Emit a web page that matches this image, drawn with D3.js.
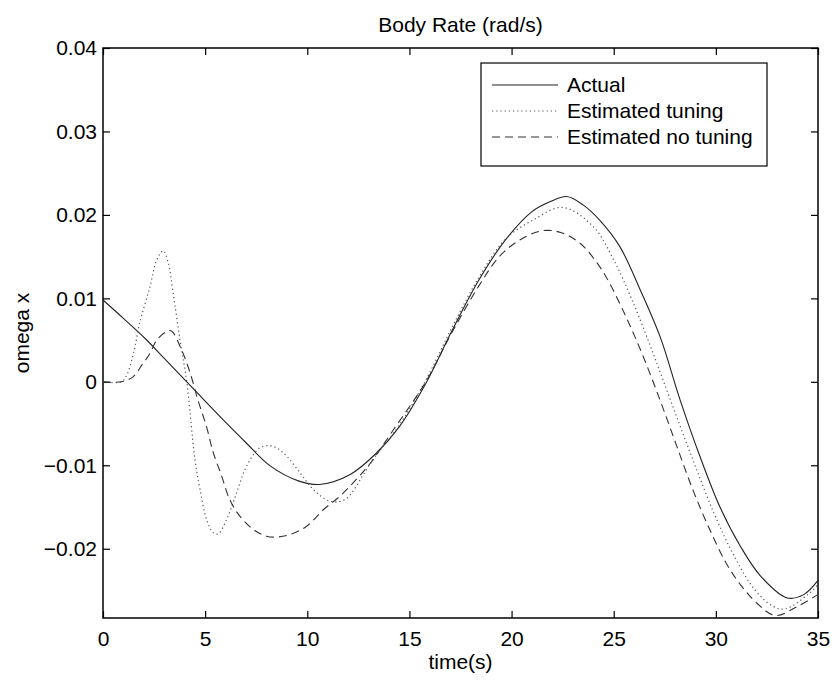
<!DOCTYPE html>
<html>
<head>
<meta charset="utf-8">
<script src="https://cdn.jsdelivr.net/npm/d3@7"></script>
<style>
  body { margin: 0; background: #fff; }
  text { font-family: "Liberation Sans", Arial, sans-serif; fill: #000; }
</style>
</head>
<body>
<script>
// values
const actualT = [0, 1, 2.1, 3, 4.1, 5, 5.9, 7, 8.2, 9.6, 10.6, 12.1, 13.4, 14.5, 15.8, 17.1, 18.4, 19.7, 21, 21.9, 22.7, 23.5, 24.3, 25.3, 26.3, 27.3, 28.2, 29.2, 30.2, 31.2, 32.2, 33.5, 34.3, 35]
const actualV = [0.0098, 0.0076, 0.0051, 0.0028, 0.0000, -0.0023, -0.0046, -0.0073, -0.0101, -0.0119, -0.0123, -0.0111, -0.0085, -0.0054, -0.0002, 0.0062, 0.0122, 0.0170, 0.0204, 0.0216, 0.0222, 0.0212, 0.0194, 0.0162, 0.0110, 0.0052, -0.0018, -0.0088, -0.0150, -0.0197, -0.0233, -0.0259, -0.0255, -0.0238]

const tunedT = [0, 0.9, 1.16, 1.5, 1.81, 2.3, 2.63, 2.95, 3.2, 3.43, 3.77, 4.1, 4.5, 4.75, 5.07, 5.4, 5.65, 6.05, 6.54, 7.03, 7.68, 8.26, 8.83, 9.64, 10.3, 11.1, 11.85, 12.9, 13.4, 14.5, 15.8, 17.1, 18.4, 19.7, 21.06, 22.5, 24.0, 25.0, 25.9, 26.9, 27.9, 28.9, 29.9, 30.9, 31.9, 32.8, 33.4, 34.5, 35]
const tunedV = [0, 0, 0.0008, 0.0035, 0.0072, 0.0114, 0.0146, 0.0157, 0.0142, 0.0107, 0.0050, 0.0000, -0.0093, -0.0129, -0.0165, -0.0181, -0.0182, -0.0165, -0.0133, -0.0101, -0.0079, -0.0077, -0.0085, -0.0109, -0.0129, -0.0143, -0.0141, -0.0105, -0.0087, -0.0052, 0.0002, 0.0066, 0.0125, 0.0171, 0.0194, 0.0209, 0.0186, 0.0146, 0.0098, 0.0036, -0.0030, -0.0095, -0.0157, -0.0209, -0.0249, -0.0269, -0.0272, -0.0255, -0.0243]

const noTuneT = [0, 0.9, 1.47, 1.9, 2.3, 2.63, 3.1, 3.35, 3.85, 4.26, 4.65, 5.07, 5.4, 5.81, 6.2, 6.7, 7.36, 8.0, 8.5, 9.15, 9.97, 10.8, 11.6, 12.4, 13.1, 14.2, 15.8, 17.1, 18.4, 19.4, 20.4, 21.5, 22.4, 23.35, 24.2, 24.8, 25.6, 26.4, 27.3, 28.1, 28.9, 29.7, 30.5, 31.2, 32.0, 32.9, 34.0, 35]
const noTuneV = [0, 0, 0.0006, 0.0020, 0.0034, 0.0050, 0.0060, 0.0061, 0.0038, 0.0011, -0.0022, -0.0054, -0.0085, -0.0113, -0.0141, -0.0161, -0.0177, -0.0185, -0.0186, -0.0183, -0.0173, -0.0153, -0.0137, -0.0117, -0.0097, -0.0058, 0.0000, 0.0060, 0.0115, 0.0150, 0.0170, 0.0181, 0.0179, 0.0166, 0.0142, 0.0118, 0.0078, 0.0033, -0.0024, -0.0078, -0.0131, -0.0177, -0.0217, -0.0243, -0.0265, -0.0280, -0.0269, -0.0255]

const xTicks = [0, 5, 10, 15, 20, 25, 30, 35]
const yTicks = [-0.02, -0.01, 0, 0.01, 0.02, 0.03, 0.04]
const legendNames = ['Actual', 'Estimated tuning', 'Estimated no tuning']

let svgWidth = 835, svgHeight = 680
let margin = {top: 48, right: 17, bottom: 62, left: 103}
let width = svgWidth - margin.left - margin.right
let height = svgHeight - margin.top - margin.bottom
let fontSize = 21
let tick_len = 7

let svg = d3.select('body').append('svg')
    .attr('width', svgWidth)
    .attr('height', svgHeight)
let g = svg.append('g')
    .attr('transform', 'translate(' + margin.left + ',' + margin.top + ')')

let x = d3.scaleLinear().domain([0, 35]).range([0, width])
let y = d3.scaleLinear().domain([-0.0283, 0.04]).range([height, 0])

let yFmt = d => Math.abs(d) < 1e-9 ? '0' : d3.format('.2f')(d)

// axes, matlab style ticks pointing inward on all four sides
g.append('g')
    .attr('transform', 'translate(0,' + height + ')')
    .call(d3.axisBottom(x).tickValues(xTicks).tickSizeInner(-tick_len).tickSizeOuter(0).tickPadding(13).tickFormat(d3.format('d')))
g.append('g')
    .call(d3.axisLeft(y).tickValues(yTicks).tickSizeInner(-tick_len).tickSizeOuter(0).tickPadding(6).tickFormat(yFmt))
g.append('g')
    .call(d3.axisTop(x).tickValues(xTicks).tickSizeInner(-tick_len).tickSizeOuter(0).tickFormat(''))
g.append('g')
    .attr('transform', 'translate(' + width + ',0)')
    .call(d3.axisRight(y).tickValues(yTicks).tickSizeInner(-tick_len).tickSizeOuter(0).tickFormat(''))

g.selectAll('.domain').remove()
g.selectAll('.tick line').attr('stroke', '#000').attr('stroke-width', 1.2)
g.selectAll('.tick text')
    .attr('font-family', '"Liberation Sans", Arial, sans-serif')
    .attr('font-size', fontSize)
    .attr('fill', '#000')

g.append('rect')
    .attr('width', width)
    .attr('height', height)
    .attr('fill', 'none')
    .attr('stroke', '#000')
    .attr('stroke-width', 1.5)

// the three curves
let series = [
    {t: actualT, v: actualV, dash: null, color: '#222', w: 1.1},
    {t: tunedT, v: tunedV, dash: '1.2,3', color: '#555', w: 1.2},
    {t: noTuneT, v: noTuneV, dash: '8,5', color: '#333', w: 1.1}
]
let line = d3.line()
    .x(d => x(d[0]))
    .y(d => y(d[1]))
    .curve(d3.curveCatmullRom.alpha(0.5))

let plot = g.append('g')
series.forEach(s => {
    plot.append('path')
        .datum(s.t.map((t, i) => [t, s.v[i]]))
        .attr('d', line)
        .attr('fill', 'none')
        .attr('stroke', s.color)
        .attr('stroke-width', s.w)
        .attr('stroke-dasharray', s.dash)
})

// legend
let lg = g.append('g').attr('transform', 'translate(' + (481 - margin.left) + ',' + (63 - margin.top) + ')')
lg.append('rect')
    .attr('width', 286)
    .attr('height', 103)
    .attr('fill', '#fff')
    .attr('stroke', '#000')
    .attr('stroke-width', 1.2)
legendNames.forEach((name, i) => {
    let cy = 22 + i * 26
    lg.append('line')
        .attr('x1', 11).attr('x2', 77)
        .attr('y1', cy).attr('y2', cy)
        .attr('stroke', series[i].color)
        .attr('stroke-width', series[i].w)
        .attr('stroke-dasharray', series[i].dash)
    lg.append('text')
        .attr('x', 86)
        .attr('y', cy + 7)
        .attr('font-size', fontSize)
        .text(name)
})

// title and axis labels
svg.append('text')
    .attr('x', margin.left + width / 2)
    .attr('y', 32)
    .attr('text-anchor', 'middle')
    .attr('font-size', fontSize)
    .text('Body Rate (rad/s)')
svg.append('text')
    .attr('x', margin.left + width / 2)
    .attr('y', 669)
    .attr('text-anchor', 'middle')
    .attr('font-size', fontSize)
    .text('time(s)')
svg.append('text')
    .attr('transform', 'translate(29,' + (margin.top + height / 2) + ') rotate(-90)')
    .attr('text-anchor', 'middle')
    .attr('font-size', fontSize)
    .text('omega x')
</script>
</body>
</html>
